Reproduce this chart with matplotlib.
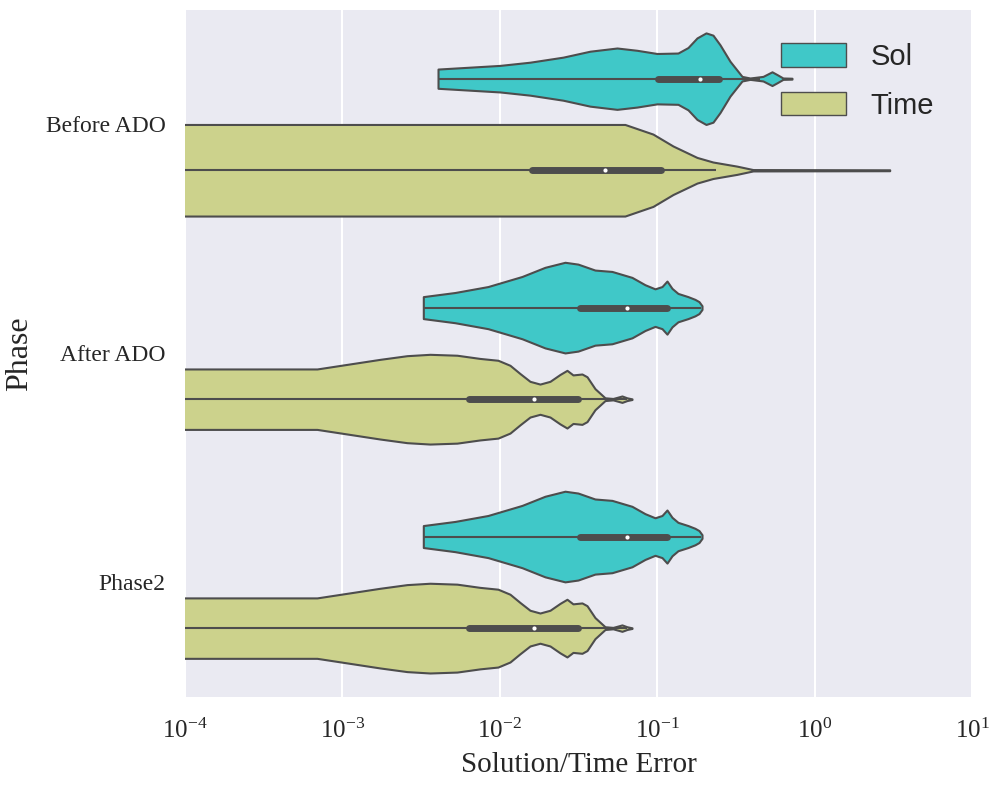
import numpy as np
import matplotlib
matplotlib.use("Agg")
import matplotlib.pyplot as plt
import matplotlib.patches as mpatches
import seaborn as sns

sns.set_style("darkgrid")
plt.rcParams["font.family"] = ["Liberation Serif", "DejaVu Serif"]
plt.rcParams["mathtext.fontset"] = "stix"

phases = ["Before ADO", "After ADO", "Phase2"]
hues = ["Sol", "Time"]
colors = {"Sol": "#40C8C8", "Time": "#CCD28C"}

# violin outlines: error value and relative density
sol_before_x = [0.00405, 0.01003, 0.01555, 0.02521, 0.03741, 0.05554, 0.07441, 0.0997,
                0.1355, 0.1569, 0.1790, 0.2042, 0.2262, 0.2506, 0.2901, 0.3458, 0.3887,
                0.4701, 0.5363, 0.5770, 0.6297, 0.7184]
sol_before_d = [0.21, 0.29, 0.36, 0.47, 0.60, 0.67, 0.62, 0.55,
                0.56, 0.68, 0.89, 1.0, 0.95, 0.74, 0.38, 0.05, 0.015,
                0.05, 0.15, 0.09, 0.015, 0.01]
time_before_x = [1e-5, 0.0624, 0.094, 0.126, 0.179, 0.226, 0.321, 0.406, 3.0]
time_before_d = [1.0, 1.0, 0.79, 0.53, 0.28, 0.18, 0.09, 0.015, 0.01]

sol_after_x = [0.003266, 0.005193, 0.008414, 0.01384, 0.01937, 0.02596, 0.03139, 0.04024,
               0.05161, 0.06917, 0.08365, 0.09683, 0.1073, 0.1154, 0.1242, 0.1355,
               0.1569, 0.1738, 0.1843, 0.1926]
sol_after_d = [0.24, 0.33, 0.46, 0.68, 0.88, 0.99, 0.95, 0.82,
               0.79, 0.66, 0.50, 0.41, 0.46, 0.58, 0.42, 0.31,
               0.24, 0.18, 0.13, 0.04]
time_after_x = [1e-5, 6.90e-4, 1.070e-3, 1.733e-3, 2.573e-3, 3.601e-3, 5.347e-3, 7.48e-3,
                9.74e-3, 0.01161, 0.01344, 0.01555, 0.01800, 0.02084, 0.02412, 0.02672,
                0.02917, 0.03328, 0.03581, 0.04024, 0.04661, 0.05238, 0.05975, 0.06426,
                0.06917]
time_after_d = [0.66, 0.66, 0.76, 0.87, 0.95, 0.98, 0.96, 0.89,
                0.85, 0.74, 0.56, 0.39, 0.33, 0.39, 0.54, 0.63,
                0.53, 0.55, 0.49, 0.23, 0.03, 0.015, 0.07, 0.03,
                0.007]

# box stats: whisker low, q1, median, q3, whisker high
sol_before_box = [0.00405, 0.101, 0.187, 0.247, 0.450]
time_before_box = [1e-5, 0.0160, 0.0466, 0.1057, 0.237]
sol_after_box = [0.00327, 0.0323, 0.0643, 0.1154, 0.190]
time_after_box = [1e-5, 0.00637, 0.0165, 0.0314, 0.0643]

violins = {
    ("Before ADO", "Sol"): (sol_before_x, sol_before_d, sol_before_box),
    ("Before ADO", "Time"): (time_before_x, time_before_d, time_before_box),
    ("After ADO", "Sol"): (sol_after_x, sol_after_d, sol_after_box),
    ("After ADO", "Time"): (time_after_x, time_after_d, time_after_box),
    ("Phase2", "Sol"): (sol_after_x, sol_after_d, sol_after_box),
    ("Phase2", "Time"): (time_after_x, time_after_d, time_after_box),
}

fig = plt.figure(figsize=(10, 8), dpi=100)
ax = fig.add_axes([0.185, 0.129, 0.787, 0.8585])
edge = "#4D4D4D"
half = 0.2

for i, phase in enumerate(phases):
    for j, hue in enumerate(hues):
        xs, ds, box = violins[(phase, hue)]
        yc = i + (-0.2 if j == 0 else 0.2)
        d = np.array(ds) * half
        ax.fill_between(xs, yc - d, yc + d, facecolor=colors[hue], edgecolor=edge,
                        linewidth=1.5, zorder=2)
        ax.plot([box[0], box[4]], [yc, yc], color=edge, lw=1.5, zorder=3,
                solid_capstyle="butt")
        ax.plot([box[1], box[3]], [yc, yc], color=edge, lw=5, zorder=3,
                solid_capstyle="round")
        ax.plot(box[2], yc, "o", color="white", ms=3, zorder=4, mec="none")

ax.set_xscale("log")
ax.set_xlim(1e-4, 1e1)
ax.set_ylim(2.5, -0.5)
ax.set_yticks(range(len(phases)))
ax.set_yticklabels(phases)
ax.grid(False, axis="y")
ax.grid(True, axis="x", which="major", color="white", lw=1.5)
ax.tick_params(axis="y", labelsize=17, pad=14, length=0)
ax.tick_params(axis="x", labelsize=18, pad=16, length=0)
ax.set_xlabel("Solution/Time Error", fontsize=21, labelpad=6)
ax.set_ylabel("Phase", fontsize=23, labelpad=8)
for s in ax.spines.values():
    s.set_visible(False)

handles = [mpatches.Patch(facecolor=colors[h], edgecolor=edge, linewidth=1, label=h)
           for h in hues]
leg = ax.legend(handles=handles, loc="upper right", bbox_to_anchor=(0.985, 0.99),
                frameon=False, handlelength=2.2, handleheight=0.85, handletextpad=0.85,
                labelspacing=0.7, prop={"family": "Liberation Sans", "size": 21})

fig.savefig("out.png", dpi=100)
